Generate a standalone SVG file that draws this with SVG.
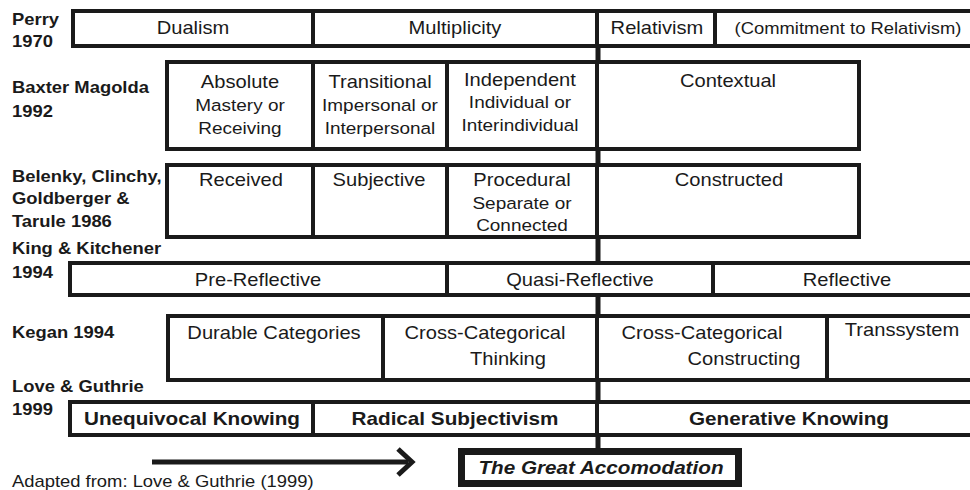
<svg xmlns="http://www.w3.org/2000/svg" width="970" height="490" viewBox="0 0 970 490">
<style>
text{font-family:"Liberation Sans",Arial,sans-serif;fill:#1a1a1a;transform:scaleX(1.15);transform-box:fill-box;transform-origin:center}
.c{text-anchor:middle;font-size:17.5px}
.s{text-anchor:middle;font-size:16.5px}
.cm{text-anchor:middle;font-size:16px}
.lab{font-size:16px;font-weight:bold;transform-origin:left center}
.b{text-anchor:middle;font-size:18px;font-weight:bold}
.ga{text-anchor:middle;font-size:18px;font-weight:bold;font-style:italic}
.src{font-size:16px;transform-origin:left center}
rect.cell{fill:#fff;stroke:#1a1a1a;stroke-width:4}
.ln{stroke:#1a1a1a;stroke-width:5;fill:none}
</style>
<rect width="970" height="490" fill="#fff"/>

<g id="connectors">
<line class="ln" x1="598" y1="11" x2="598" y2="450"/>
<line class="ln" x1="152" y1="462" x2="408" y2="462"/>
<polyline class="ln" points="398,449 412,462 398,475" stroke-width="6"/>
</g>

<g id="labels">
<text class="lab" x="12" y="25">Perry</text>
<text class="lab" x="12" y="47">1970</text>
<text class="lab" x="12" y="93">Baxter Magolda</text>
<text class="lab" x="12" y="117">1992</text>
<text class="lab" x="12" y="182">Belenky, Clinchy,</text>
<text class="lab" x="12" y="204">Goldberger &amp;</text>
<text class="lab" x="12" y="227">Tarule 1986</text>
<text class="lab" x="12" y="254">King &amp; Kitchener</text>
<text class="lab" x="12" y="278">1994</text>
<text class="lab" x="12" y="338">Kegan 1994</text>
<text class="lab" x="12" y="392">Love &amp; Guthrie</text>
<text class="lab" x="12" y="415">1999</text>
</g>

<g id="perry">
<g id="dualism"><rect class="cell" x="73" y="11" width="240" height="35"/><text class="c" x="193" y="34">Dualism</text></g>
<g id="multiplicity"><rect class="cell" x="313" y="11" width="284" height="35"/><text class="c" x="455" y="34">Multiplicity</text></g>
<g id="relativism"><rect class="cell" x="597" y="11" width="118" height="35"/><text class="c" x="657" y="34">Relativism</text></g>
<g id="commitment"><rect class="cell" x="715" y="11" width="270" height="35"/><text class="cm" x="848" y="34">(Commitment to Relativism)</text></g>
</g>

<g id="baxter">
<g id="absolute"><rect class="cell" x="167" y="62" width="146" height="87"/><text class="c" x="240" y="88">Absolute</text><text class="s" x="240" y="111">Mastery or</text><text class="s" x="240" y="134">Receiving</text></g>
<g id="transitional"><rect class="cell" x="313" y="62" width="134" height="87"/><text class="c" x="380" y="88">Transitional</text><text class="s" x="380" y="111">Impersonal or</text><text class="s" x="380" y="134">Interpersonal</text></g>
<g id="independent"><rect class="cell" x="447" y="62" width="150" height="87"/><text class="c" x="520" y="86">Independent</text><text class="s" x="520" y="108">Individual or</text><text class="s" x="520" y="131">Interindividual</text></g>
<g id="contextual"><rect class="cell" x="597" y="62" width="262" height="87"/><text class="c" x="728" y="87">Contextual</text></g>
</g>

<g id="belenky">
<g id="received"><rect class="cell" x="167" y="165" width="146" height="72"/><text class="c" x="241" y="186">Received</text></g>
<g id="subjective"><rect class="cell" x="313" y="165" width="134" height="72"/><text class="c" x="379" y="186">Subjective</text></g>
<g id="procedural"><rect class="cell" x="447" y="165" width="150" height="72"/><text class="c" x="522" y="186">Procedural</text><text class="s" x="522" y="209">Separate or</text><text class="s" x="522" y="231">Connected</text></g>
<g id="constructed"><rect class="cell" x="597" y="165" width="262" height="72"/><text class="c" x="729" y="186">Constructed</text></g>
</g>

<g id="king">
<g id="prereflective"><rect class="cell" x="70" y="263" width="377" height="32"/><text class="c" x="258" y="286">Pre-Reflective</text></g>
<g id="quasireflective"><rect class="cell" x="447" y="263" width="266" height="32"/><text class="c" x="580" y="286">Quasi-Reflective</text></g>
<g id="reflective"><rect class="cell" x="713" y="263" width="270" height="32"/><text class="c" x="847" y="286">Reflective</text></g>
</g>

<g id="kegan">
<g id="durable"><rect class="cell" x="168" y="316" width="215" height="64"/><text class="c" x="274" y="339">Durable Categories</text></g>
<g id="crosscatthinking"><rect class="cell" x="383" y="316" width="214" height="64"/><text class="c" x="485" y="339">Cross-Categorical</text><text class="c" x="508" y="365">Thinking</text></g>
<g id="crosscatconstructing"><rect class="cell" x="597" y="316" width="230" height="64"/><text class="c" x="702" y="339">Cross-Categorical</text><text class="c" x="744" y="365">Constructing</text></g>
<g id="transsystem"><rect class="cell" x="827" y="316" width="160" height="64"/><text class="c" x="902" y="336">Transsystem</text></g>
</g>

<g id="love">
<g id="unequivocal"><rect class="cell" x="70" y="402" width="243" height="33"/><text class="b" x="192" y="425">Unequivocal Knowing</text></g>
<g id="radical"><rect class="cell" x="313" y="402" width="284" height="33"/><text class="b" x="455" y="425">Radical Subjectivism</text></g>
<g id="generative"><rect class="cell" x="597" y="402" width="390" height="33"/><text class="b" x="789" y="425">Generative Knowing</text></g>
</g>

<g id="great-accomodation">
<rect x="461.5" y="451.5" width="277" height="32" fill="#fff" stroke="#1a1a1a" stroke-width="7"/>
<text class="ga" x="601" y="474">The Great Accomodation</text>
</g>

<text class="src" x="12" y="487">Adapted from: Love &amp; Guthrie (1999)</text>
</svg>
